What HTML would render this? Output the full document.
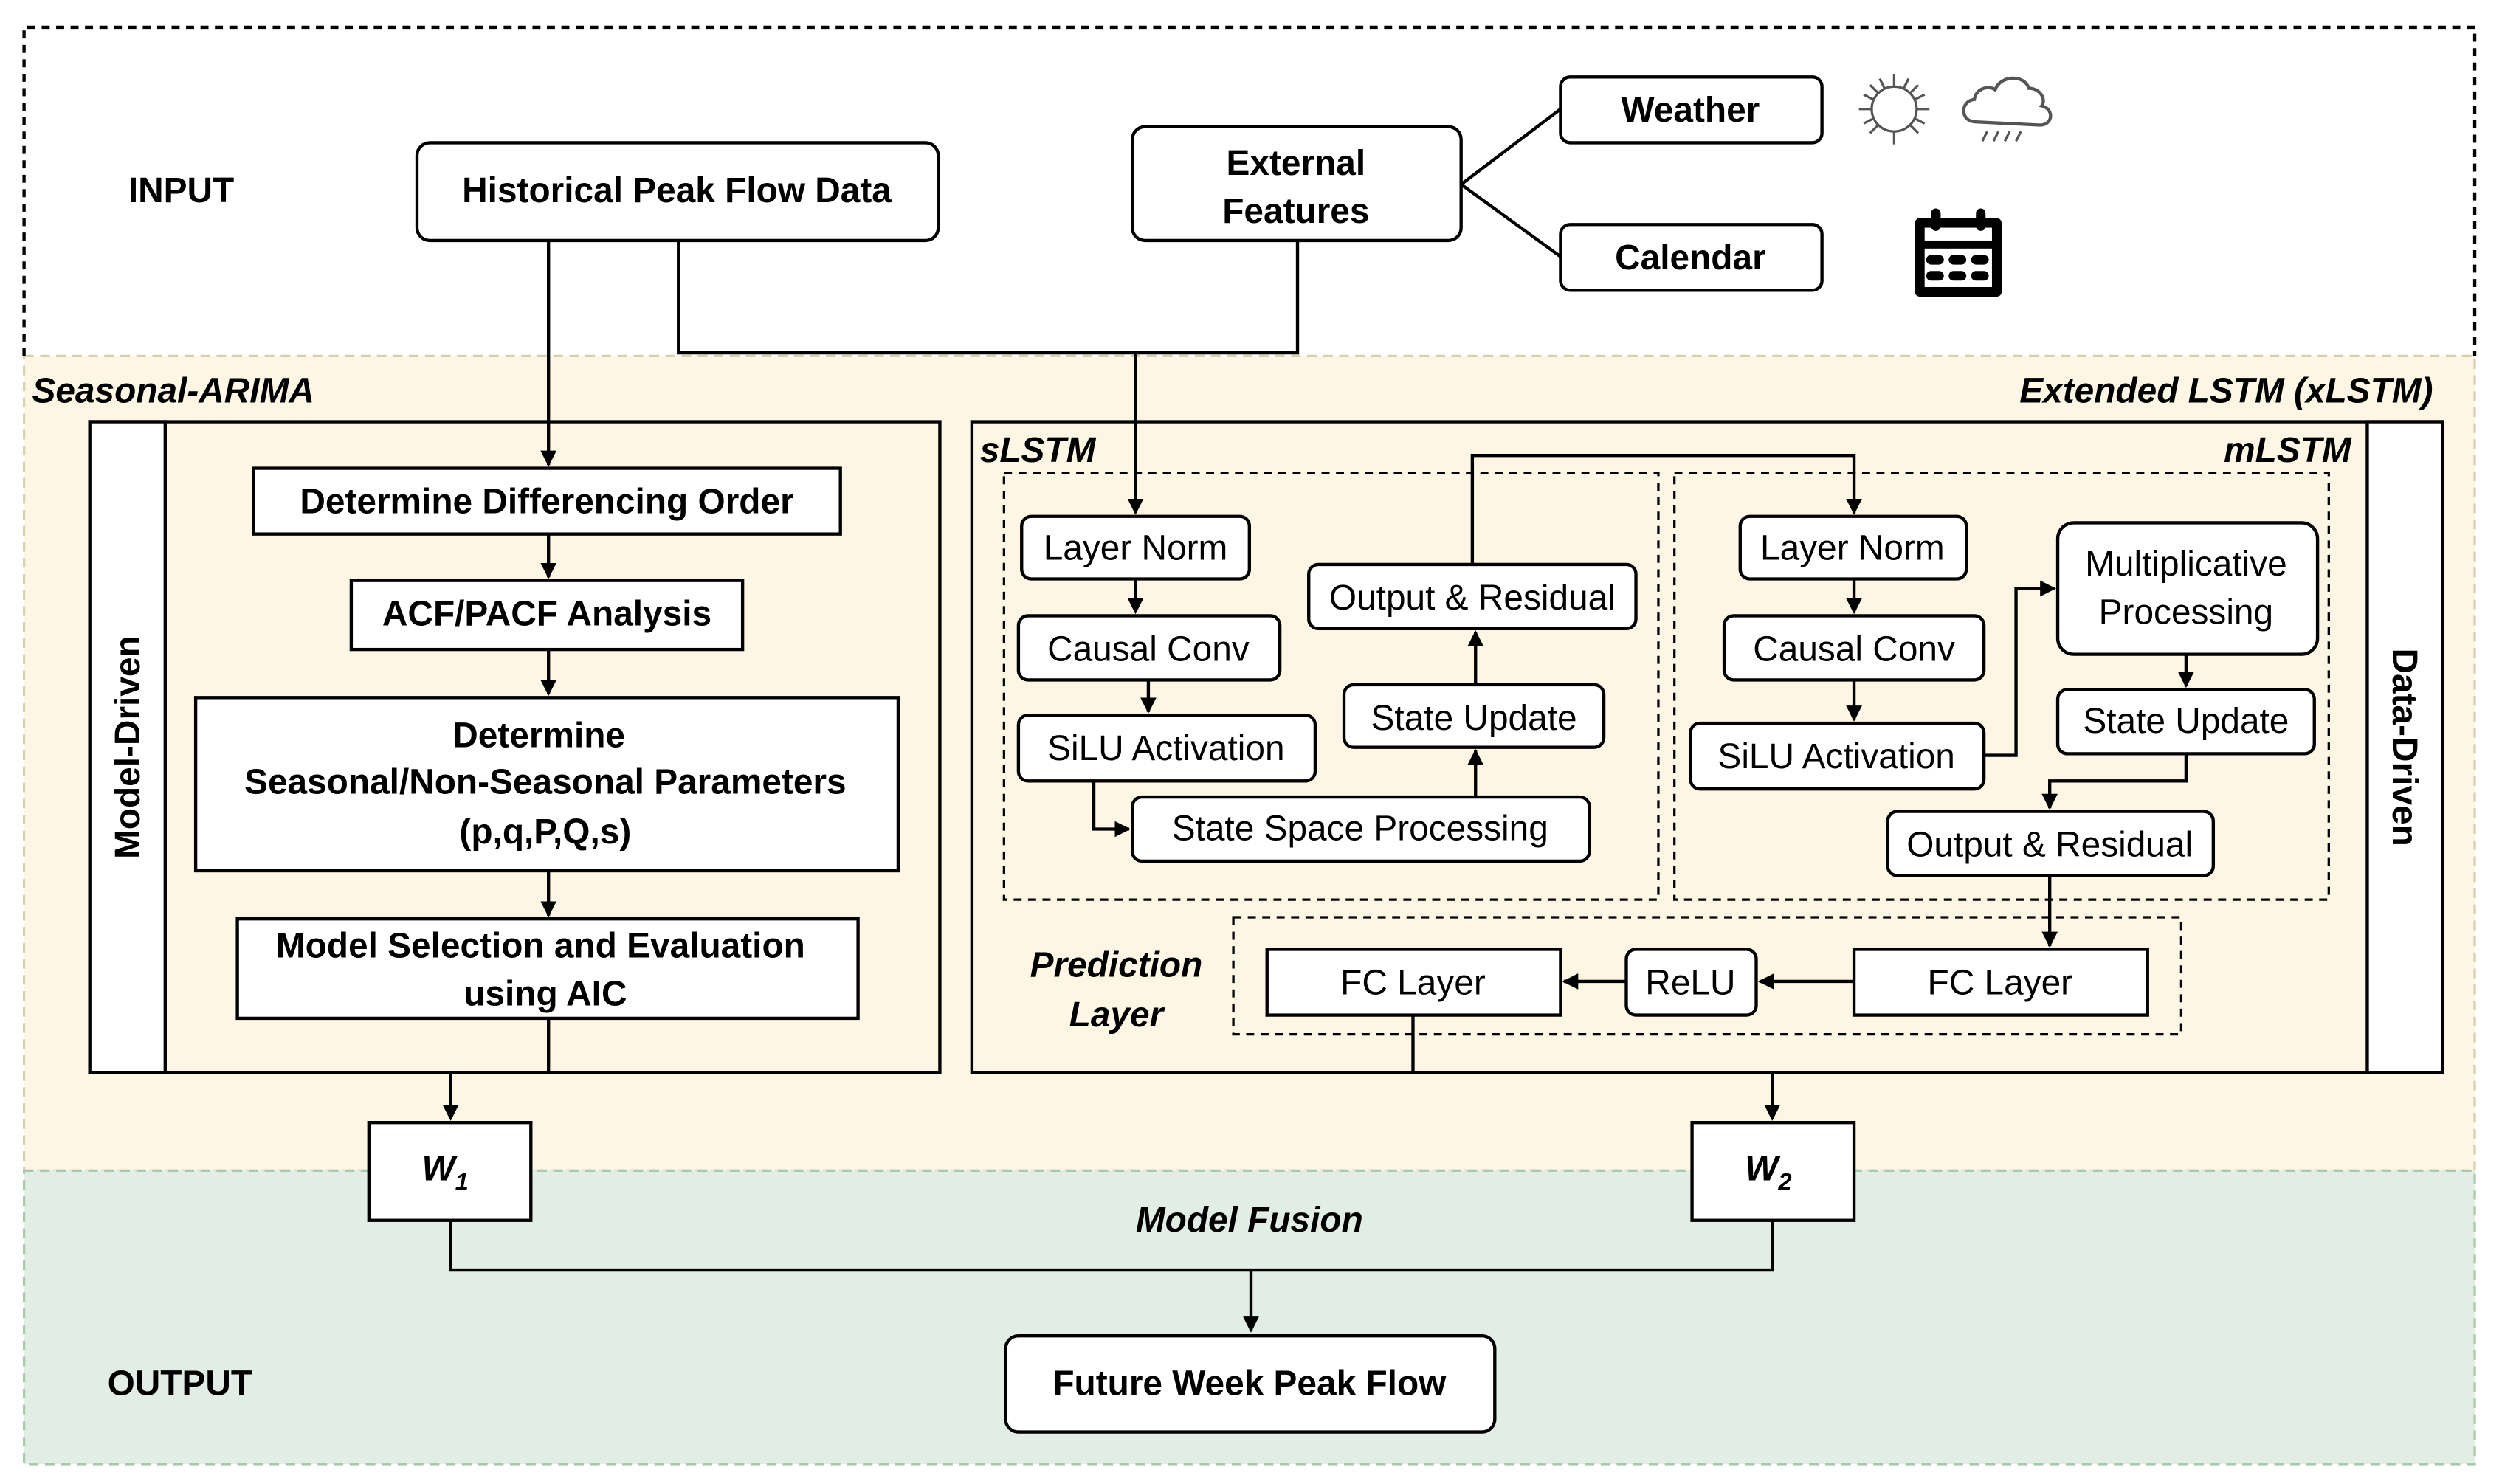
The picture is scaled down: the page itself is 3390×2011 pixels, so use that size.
<!DOCTYPE html>
<html><head><meta charset="utf-8"><style>
html,body{margin:0;padding:0;background:#fff;}
svg{display:block;}
text{font-family:"Liberation Sans",Arial,sans-serif;fill:#000;}
.b{font-weight:bold;font-size:22px;}
.n{font-size:22px;}
.i{font-weight:bold;font-style:italic;font-size:22px;}
</style></head><body>
<svg width="3390" height="2011" viewBox="0 0 1560 925.4" preserveAspectRatio="none" xmlns="http://www.w3.org/2000/svg">
<defs><marker id="a" markerWidth="10" markerHeight="10" refX="9" refY="5" orient="auto" markerUnits="userSpaceOnUse"><path d="M0,0 L10,5 L0,10 Z" fill="#000"/></marker></defs>
<rect x="0" y="0" width="1560" height="926" fill="#fff"/>
<rect x="15" y="222" width="1528" height="508" fill="#fdf6e5" stroke="#d8cfb0" stroke-width="1.5" stroke-dasharray="6,4"/>
<rect x="15" y="730" width="1528" height="183" fill="#e2ede5" stroke="#a9c9ad" stroke-width="1.5" stroke-dasharray="6,4"/>
<path d="M15,222 V17 H1543 V222" fill="none" stroke="#000" stroke-width="2" stroke-dasharray="5,4"/>
<g fill="none" stroke="#000" stroke-width="2">
<rect x="260" y="89" width="325" height="61" rx="8" fill="#fff"/>
<rect x="706" y="79" width="205" height="71" rx="8" fill="#fff"/>
<rect x="973" y="48" width="163" height="41" rx="6" fill="#fff"/>
<rect x="973" y="140" width="163" height="41" rx="6" fill="#fff"/>
<path d="M911,115 L973,68 M911,115 L973,160"/>
<path d="M423,150 V220 H809 V150"/>
<!-- left box -->
<rect x="56" y="263" width="530" height="406" fill="#fdf6e5"/>
<rect x="56" y="263" width="47" height="406" fill="#fff"/>
<rect x="158" y="292" width="366" height="41" fill="#fff"/>
<rect x="219" y="362" width="244" height="43" fill="#fff"/>
<rect x="122" y="435" width="438" height="108" fill="#fff"/>
<rect x="148" y="573" width="387" height="62" fill="#fff"/>
<path d="M342,150 V290" marker-end="url(#a)"/>
<path d="M342,333 V360" marker-end="url(#a)"/>
<path d="M342,405 V433" marker-end="url(#a)"/>
<path d="M342,543 V571" marker-end="url(#a)"/>
<path d="M342,635 V669"/>
<path d="M281,669 V698" marker-end="url(#a)"/>
<!-- right box -->
<rect x="606" y="263" width="917" height="406" fill="#fdf6e5"/>
<rect x="1476" y="263" width="47" height="406" fill="#fff"/>
<rect x="626" y="295" width="408" height="266" stroke-width="1.5" stroke-dasharray="5,4"/>
<rect x="1044" y="295" width="408" height="266" stroke-width="1.5" stroke-dasharray="5,4"/>
<rect x="769" y="572" width="591" height="73" stroke-width="1.5" stroke-dasharray="5,4"/>
<path d="M708,220 V320" marker-end="url(#a)"/>
<rect x="637" y="322" width="142" height="39" rx="6" fill="#fff"/>
<rect x="635" y="384" width="163" height="40" rx="6" fill="#fff"/>
<rect x="635" y="446" width="185" height="41" rx="6" fill="#fff"/>
<rect x="706" y="497" width="285" height="40" rx="6" fill="#fff"/>
<rect x="838" y="427" width="162" height="39" rx="6" fill="#fff"/>
<rect x="816" y="352" width="204" height="40" rx="6" fill="#fff"/>
<path d="M708,361 V382" marker-end="url(#a)"/>
<path d="M716,424 V444" marker-end="url(#a)"/>
<path d="M682,487 V517 H704" marker-end="url(#a)"/>
<path d="M920,497 V468" marker-end="url(#a)"/>
<path d="M920,427 V394" marker-end="url(#a)"/>
<path d="M918,352 V284 H1156 V320" marker-end="url(#a)"/>
<rect x="1085" y="322" width="141" height="39" rx="6" fill="#fff"/>
<rect x="1075" y="384" width="162" height="40" rx="6" fill="#fff"/>
<rect x="1054" y="451" width="183" height="41" rx="6" fill="#fff"/>
<rect x="1283" y="326" width="162" height="82" rx="10" fill="#fff"/>
<rect x="1283" y="430" width="160" height="40" rx="6" fill="#fff"/>
<rect x="1177" y="506" width="203" height="40" rx="6" fill="#fff"/>
<path d="M1156,361 V382" marker-end="url(#a)"/>
<path d="M1156,424 V449" marker-end="url(#a)"/>
<path d="M1237,471 H1257 V367 H1281" marker-end="url(#a)"/>
<path d="M1363,408 V428" marker-end="url(#a)"/>
<path d="M1363,470 V487 H1278 V504" marker-end="url(#a)"/>
<path d="M1278,546 V590" marker-end="url(#a)"/>
<rect x="1156" y="592" width="183" height="41" fill="#fff"/>
<rect x="1014" y="592" width="81" height="41" rx="6" fill="#fff"/>
<rect x="790" y="592" width="183" height="41" fill="#fff"/>
<path d="M1156,612 H1097" marker-end="url(#a)"/>
<path d="M1014,612 H975" marker-end="url(#a)"/>
<path d="M881,633 V669"/>
<path d="M1105,669 V698" marker-end="url(#a)"/>
<rect x="230" y="700" width="101" height="61" fill="#fff"/>
<rect x="1055" y="700" width="101" height="61" fill="#fff"/>
<path d="M281,761 V792 H1105 V761"/>
<path d="M780,792 V830" marker-end="url(#a)"/>
<rect x="627" y="833" width="305" height="60" rx="8" fill="#fff"/>
</g>
<g stroke="#555" stroke-width="1.5" fill="none">
<circle cx="1181" cy="68" r="14"/>
<path d="M1181,46 V54 M1181,82 V90 M1159,68 H1167 M1195,68 H1203 M1166,53 L1171,58 M1191,78 L1196,83 M1196,53 L1191,58 M1171,78 L1166,83 M1172,49 L1175,55 M1190,49 L1187,55 M1162,59 L1168,62 M1200,59 L1194,62 M1162,77 L1168,74 M1200,77 L1194,74"/>
<path d="M1232,76 C1222,76 1222,63 1231,62 C1232,55 1240,53 1244,56 C1247,47 1262,46 1265,55 C1272,55 1276,62 1273,66 C1281,68 1280,78 1272,78 Z" stroke-width="2"/>
<path d="M1236,88 L1239,82 M1243,88 L1246,82 M1250,88 L1253,82 M1257,88 L1260,82"/>
</g>
<g fill="#000">
<rect x="1194" y="136" width="54" height="49" rx="3"/>
<rect x="1200" y="142" width="42" height="8" fill="#fff"/>
<rect x="1200" y="155" width="42" height="24" fill="#fff"/>
<rect x="1204" y="130" width="6" height="14" rx="3"/><rect x="1232" y="130" width="6" height="14" rx="3"/>
<rect x="1201" y="159" width="11" height="6" rx="3"/><rect x="1215" y="159" width="11" height="6" rx="3"/><rect x="1229" y="159" width="11" height="6" rx="3"/>
<rect x="1201" y="169" width="11" height="6" rx="3"/><rect x="1215" y="169" width="11" height="6" rx="3"/><rect x="1229" y="169" width="11" height="6" rx="3"/>
</g>
<text class="b" x="80" y="126">INPUT</text>
<text class="b" x="67" y="870">OUTPUT</text>
<text class="b" x="422" y="126" text-anchor="middle">Historical Peak Flow Data</text>
<text class="b" x="808" y="109" text-anchor="middle">External</text>
<text class="b" x="808" y="139" text-anchor="middle">Features</text>
<text class="b" x="1054" y="76" text-anchor="middle">Weather</text>
<text class="b" x="1054" y="168" text-anchor="middle">Calendar</text>
<text class="i" x="20" y="251">Seasonal-ARIMA</text>
<text class="i" x="1517" y="251" text-anchor="end">Extended LSTM (xLSTM)</text>
<text class="b" x="87" y="466" text-anchor="middle" transform="rotate(-90 87 466)">Model-Driven</text>
<text class="b" x="1492" y="466" text-anchor="middle" transform="rotate(90 1492 466)">Data-Driven</text>
<text class="b" x="341" y="320" text-anchor="middle">Determine Differencing Order</text>
<text class="b" x="341" y="390" text-anchor="middle">ACF/PACF Analysis</text>
<text class="b" x="336" y="466" text-anchor="middle">Determine</text>
<text class="b" x="340" y="495" text-anchor="middle">Seasonal/Non-Seasonal Parameters</text>
<text class="b" x="340" y="526" text-anchor="middle">(p,q,P,Q,s)</text>
<text class="b" x="337" y="597" text-anchor="middle">Model Selection and Evaluation</text>
<text class="b" x="340" y="627" text-anchor="middle">using AIC</text>
<text class="i" x="611" y="288">sLSTM</text>
<text class="i" x="1466" y="288" text-anchor="end">mLSTM</text>
<text class="n" x="708" y="349" text-anchor="middle">Layer Norm</text>
<text class="n" x="716" y="412" text-anchor="middle">Causal Conv</text>
<text class="n" x="727" y="474" text-anchor="middle">SiLU Activation</text>
<text class="n" x="848" y="524" text-anchor="middle">State Space Processing</text>
<text class="n" x="919" y="455" text-anchor="middle">State Update</text>
<text class="n" x="918" y="380" text-anchor="middle">Output &amp; Residual</text>
<text class="n" x="1155" y="349" text-anchor="middle">Layer Norm</text>
<text class="n" x="1156" y="412" text-anchor="middle">Causal Conv</text>
<text class="n" x="1145" y="479" text-anchor="middle">SiLU Activation</text>
<text class="n" x="1363" y="359" text-anchor="middle">Multiplicative</text>
<text class="n" x="1363" y="389" text-anchor="middle">Processing</text>
<text class="n" x="1363" y="457" text-anchor="middle">State Update</text>
<text class="n" x="1278" y="534" text-anchor="middle">Output &amp; Residual</text>
<text class="i" x="696" y="609" text-anchor="middle">Prediction</text>
<text class="i" x="696" y="640" text-anchor="middle">Layer</text>
<text class="n" x="1247" y="620" text-anchor="middle">FC Layer</text>
<text class="n" x="1054" y="620" text-anchor="middle">ReLU</text>
<text class="n" x="881" y="620" text-anchor="middle">FC Layer</text>
<text class="i" x="263" y="736">W<tspan font-size="15" dy="6">1</tspan></text>
<text class="i" x="1088" y="736">W<tspan font-size="15" dy="6">2</tspan></text>
<text class="i" x="779" y="768" text-anchor="middle">Model Fusion</text>
<text class="b" x="779" y="870" text-anchor="middle">Future Week Peak Flow</text>
</svg>
</body></html>
